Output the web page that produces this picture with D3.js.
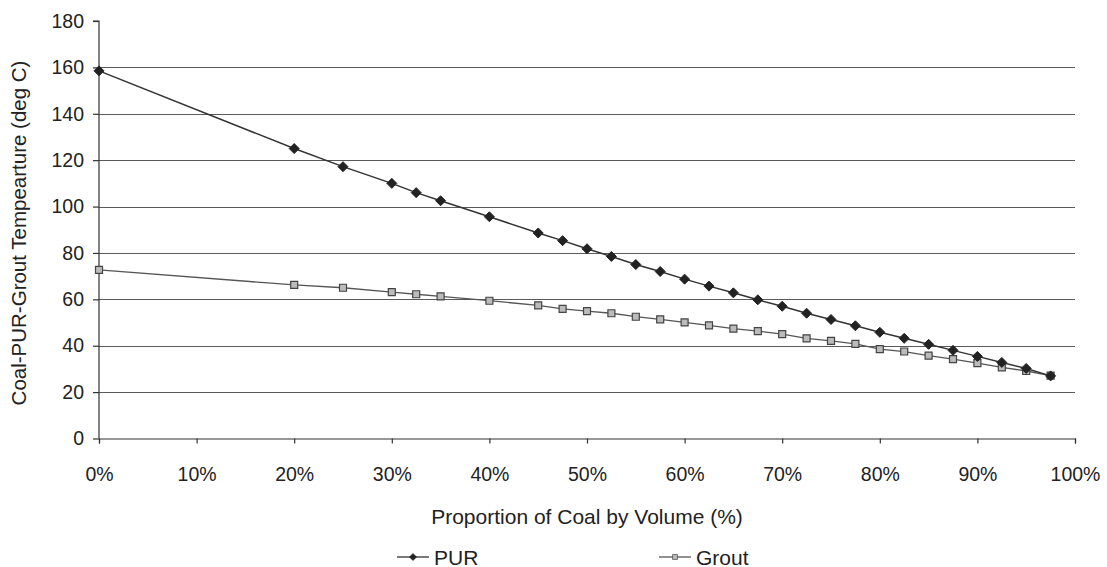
<!DOCTYPE html>
<html><head><meta charset="utf-8">
<script src="https://cdn.jsdelivr.net/npm/d3@7"></script>
<style>body{margin:0;background:#fff}svg{display:block}text{font-family:"Liberation Sans",Arial,sans-serif;fill:#222}</style>
</head><body>
<svg id="c" width="1107" height="567"></svg>
<script>
const coalPct = [0,20,25,30,32.5,35,40,45,47.5,50,52.5,55,57.5,60,62.5,65,67.5,70,72.5,75,77.5,80,82.5,85,87.5,90,92.5,95,97.5];
const purTemp = [158.5,125,117.2,110,106,102.5,95.6,88.6,85.3,81.8,78.5,75,72,68.7,65.7,62.8,59.8,57,54,51.3,48.6,45.8,43.2,40.6,38,35.4,32.8,30.2,27];
const groutTemp = [72.7,66.2,65,63.1,62.2,61.3,59.4,57.4,55.9,54.9,54.0,52.5,51.4,50.1,48.8,47.4,46.3,45,43.2,42.1,40.8,38.5,37.5,35.7,34.2,32.5,30.7,29.1,27.1];
const yTicks = [0,20,40,60,80,100,120,140,160,180];
const xTicks = [0,10,20,30,40,50,60,70,80,90,100];
const seriesNames = ["PUR","Grout"];
const xTitle = "Proportion of Coal by Volume (%)";
const yTitle = "Coal-PUR-Grout Tempearture (deg C)";

const svg = d3.select("#c");
const x = d3.scaleLinear().domain([0,100]).range([99,1075]);
const y = d3.scaleLinear().domain([0,180]).range([438.5,21]);

// gridlines
svg.append("g").selectAll("line").data(yTicks.filter(d=>d>0 && d<180)).join("line")
  .attr("x1",x(0)).attr("x2",x(100)).attr("y1",d=>Math.round(y(d))+0.5).attr("y2",d=>Math.round(y(d))+0.5)
  .attr("stroke","#5a5a5a").attr("stroke-width",1.1);

// axes
const yAxis = svg.append("g").attr("transform",`translate(${x(0)},0)`)
  .call(d3.axisLeft(y).tickValues(yTicks).tickSize(6).tickPadding(9).tickFormat(d3.format("d")));
const xAxis = svg.append("g").attr("transform",`translate(0,${y(0)})`)
  .call(d3.axisBottom(x).tickValues(xTicks).tickSize(5).tickPadding(24).tickFormat(d=>d+"%"));
[yAxis,xAxis].forEach(g=>{
  g.select(".domain").attr("stroke","#333").attr("stroke-width",1.2);
  g.selectAll(".tick line").attr("stroke","#333").attr("stroke-width",1.2);
  g.selectAll("text").attr("font-size",19.5).attr("fill","#222").style("font-family","'Liberation Sans',Arial,sans-serif");
});
yAxis.select(".domain").attr("d",`M-6,${y(180)}H0V${y(0)}`);

// titles
svg.append("text").attr("x",587).attr("y",524).attr("text-anchor","middle").attr("font-size",21).text(xTitle);
svg.append("text").attr("transform","translate(26,233) rotate(-90)").attr("text-anchor","middle").attr("font-size",20.5).text(yTitle);

const line = d3.line().x(d=>x(d[0])).y(d=>y(d[1]));
const purData = coalPct.map((c,i)=>[c,purTemp[i]]);
const groutData = coalPct.map((c,i)=>[c,groutTemp[i]]);

svg.append("path").datum(groutData).attr("d",line).attr("fill","none").attr("stroke","#555").attr("stroke-width",1.3);
svg.append("path").datum(purData).attr("d",line).attr("fill","none").attr("stroke","#333").attr("stroke-width",1.5);

const diamondPath = "M0,-5L5,0L0,5L-5,0Z";
const squarePath = "M-3.5,-3.5H3.5V3.5H-3.5Z";
svg.append("g").selectAll("path").data(groutData).join("path")
  .attr("transform",d=>`translate(${x(d[0])},${y(d[1])})`).attr("d",squarePath)
  .attr("fill","#bbb").attr("stroke","#444").attr("stroke-width",1.2);
svg.append("g").selectAll("path").data(purData).join("path")
  .attr("transform",d=>`translate(${x(d[0])},${y(d[1])})`).attr("d",diamondPath)
  .attr("fill","#222").attr("stroke","#222");

// legend
const leg = [{name:seriesNames[0],x0:397,sym:diamondPath,fill:"#222",stroke:"#222",ls:"#333"},
             {name:seriesNames[1],x0:659,sym:squarePath,fill:"#bbb",stroke:"#444",ls:"#555"}];
const lg = svg.append("g").selectAll("g").data(leg).join("g").attr("transform",d=>`translate(${d.x0},557)`);
lg.append("line").attr("x1",0).attr("x2",32).attr("stroke",d=>d.ls).attr("stroke-width",1.3);
lg.append("path").attr("transform","translate(16,0) scale(0.7)").attr("d",d=>d.sym).attr("fill",d=>d.fill).attr("stroke",d=>d.stroke);
lg.append("text").attr("x",37).attr("y",7.5).attr("font-size",21).text(d=>d.name);
</script>
</body></html>
